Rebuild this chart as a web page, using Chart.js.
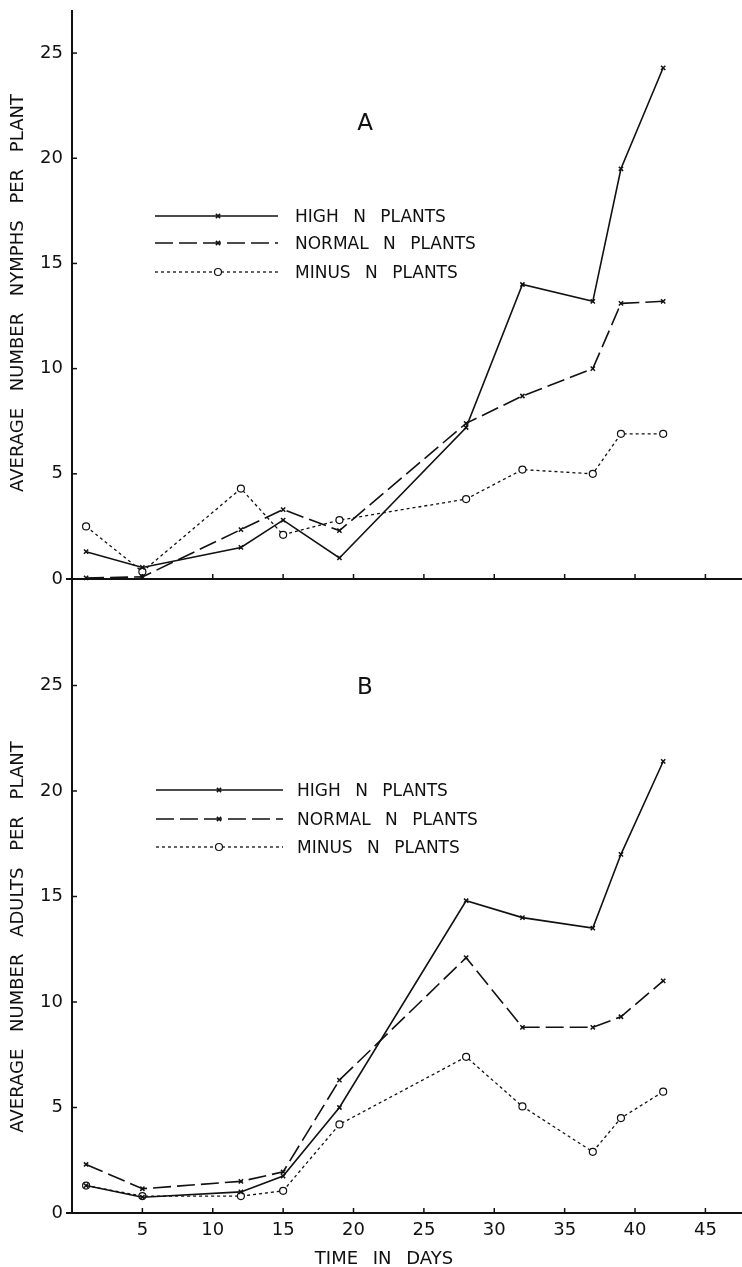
<!DOCTYPE html>
<html>
<head>
<meta charset="utf-8">
<script src="https://cdn.jsdelivr.net/npm/chart.js@4.4.1/dist/chart.umd.min.js"></script>
<style>
  body { margin: 0; background: #fff; }
  #wrap { position: relative; width: 742px; height: 1267px; overflow: hidden;
          font-family: 'DejaVu Sans', sans-serif; color: #111; }
  canvas { position: absolute; left: 0; }
  .lbl { position: absolute; white-space: pre; line-height: 1; }
  .leg { font-size: 17px; transform: translateY(-50%); word-spacing: 9px; }
  .panel { font-size: 23px; transform: translate(-50%, -50%); }
  .ytitle { font-size: 18px; word-spacing: 11px; transform: translate(-50%, -50%) rotate(-90deg); }
  .xtitle { font-size: 18px; word-spacing: 9px; transform: translate(-50%, -50%); }
</style>
</head>
<body>
<div id="wrap">
  <canvas id="chartA" width="742" height="600" style="top:0"></canvas>
  <canvas id="chartB" width="742" height="697" style="top:570px"></canvas>

  <div class="lbl panel" style="left:365px; top:122px">A</div>
  <div class="lbl leg" style="left:295px; top:216px">HIGH N PLANTS</div>
  <div class="lbl leg" style="left:295px; top:243px">NORMAL N PLANTS</div>
  <div class="lbl leg" style="left:295px; top:272px">MINUS N PLANTS</div>
  <div class="lbl ytitle" style="left:17px; top:293px">AVERAGE NUMBER NYMPHS PER PLANT</div>

  <div class="lbl panel" style="left:365px; top:686px">B</div>
  <div class="lbl leg" style="left:297px; top:790px">HIGH N PLANTS</div>
  <div class="lbl leg" style="left:297px; top:819px">NORMAL N PLANTS</div>
  <div class="lbl leg" style="left:297px; top:847px">MINUS N PLANTS</div>
  <div class="lbl ytitle" style="left:17px; top:937px">AVERAGE NUMBER ADULTS PER PLANT</div>

  <div class="lbl xtitle" style="left:384px; top:1258px">TIME IN DAYS</div>
</div>
<script>
// days of sampling
const days = [1, 5, 12, 15, 19, 28, 32, 37, 39, 42];

// A: nymphs per plant
const nymphsHigh   = [1.3, 0.55, 1.5, 2.8, 1.0, 7.2, 14.0, 13.2, 19.5, 24.3];
const nymphsNormal = [0.05, 0.1, 2.35, 3.3, 2.3, 7.4, 8.7, 10.0, 13.1, 13.2];
const nymphsMinus  = [2.5, 0.35, 4.3, 2.1, 2.8, 3.8, 5.2, 5.0, 6.9, 6.9];

// B: adults per plant
const adultsHigh   = [1.3, 0.75, 1.0, 1.75, 5.0, 14.8, 14.0, 13.5, 17.0, 21.4];
const adultsNormal = [2.3, 1.15, 1.5, 1.95, 6.3, 12.1, 8.8, 8.8, 9.3, 11.0];
const adultsMinus  = [1.3, 0.8, 0.8, 1.05, 4.2, 7.4, 5.05, 2.9, 4.5, 5.75];

const xTicks = [5, 10, 15, 20, 25, 30, 35, 40, 45];
const yTicks = [0, 5, 10, 15, 20, 25];

const ink = '#111';
const tickFont = { family: 'DejaVu Sans', size: 18 };

function pts(ys) {
    return days.map((d, i) => ({ x: d, y: ys[i] }));
}

function makeSets(high, normal, minus) {
    return [{
        label: 'HIGH N PLANTS',
        data: pts(high),
        borderColor: ink, borderWidth: 1.6,
        pointStyle: 'crossRot', pointRadius: 3, pointBorderWidth: 1.5,
        pointBorderColor: ink, pointBackgroundColor: ink
    }, {
        label: 'NORMAL N PLANTS',
        data: pts(normal),
        borderColor: ink, borderWidth: 1.6, borderDash: [18, 6],
        pointStyle: 'crossRot', pointRadius: 3, pointBorderWidth: 1.5,
        pointBorderColor: ink, pointBackgroundColor: ink
    }, {
        label: 'MINUS N PLANTS',
        data: pts(minus),
        borderColor: ink, borderWidth: 1.3, borderDash: [3, 3],
        pointStyle: 'circle', pointRadius: 3.5, pointBorderWidth: 1.2,
        pointBorderColor: ink, pointBackgroundColor: '#fff'
    }];
}

// small tick marks pointing into the plot, like the original
const innerTicks = {
    id: 'innerTicks',
    afterDraw(chart) {
        const { ctx, chartArea } = chart;
        const x = chart.scales.x, y = chart.scales.y;
        ctx.save();
        ctx.strokeStyle = ink;
        ctx.lineWidth = 1.5;
        x.ticks.forEach(t => {
            const px = x.getPixelForValue(t.value);
            ctx.beginPath();
            ctx.moveTo(px, chartArea.bottom);
            ctx.lineTo(px, chartArea.bottom - 5);
            ctx.stroke();
        });
        y.ticks.forEach(t => {
            const py = y.getPixelForValue(t.value);
            ctx.beginPath();
            ctx.moveTo(chartArea.left, py);
            ctx.lineTo(chartArea.left + 5, py);
            ctx.stroke();
        });
        // axis line runs a little past the y axis on the left
        ctx.lineWidth = 2;
        ctx.beginPath();
        ctx.moveTo(chartArea.left - 6, chartArea.bottom);
        ctx.lineTo(chartArea.left, chartArea.bottom);
        ctx.stroke();
        ctx.restore();
    }
};

// legend line samples (line with marker in the middle)
const sampleLegend = {
    id: 'sampleLegend',
    afterDraw(chart, args, opts) {
        if (!opts.rows) return;
        const ctx = chart.ctx;
        chart.data.datasets.forEach((ds, i) => {
            const yy = opts.rows[i];
            ctx.save();
            ctx.strokeStyle = ink;
            ctx.lineWidth = ds.borderWidth;
            ctx.setLineDash(ds.borderDash || []);
            ctx.beginPath();
            ctx.moveTo(opts.x0, yy);
            ctx.lineTo(opts.x1, yy);
            ctx.stroke();
            ctx.setLineDash([]);
            ctx.fillStyle = ds.pointBackgroundColor;
            ctx.strokeStyle = ink;
            ctx.lineWidth = ds.pointBorderWidth;
            Chart.helpers.drawPoint(ctx, {
                pointStyle: ds.pointStyle, radius: ds.pointRadius,
                borderWidth: ds.pointBorderWidth, rotation: 0
            }, opts.xm, yy);
            ctx.restore();
        });
    }
};

function makeChart(id, sets, cfg) {
    return new Chart(document.getElementById(id), {
        type: 'line',
        data: { datasets: sets },
        plugins: [innerTicks, sampleLegend],
        options: {
            responsive: false,
            devicePixelRatio: 1,
            animation: false,
            layout: {
                autoPadding: false,
                padding: { top: cfg.top, bottom: cfg.bottom, left: 0, right: 0 }
            },
            elements: { line: { tension: 0 } },
            datasets: { line: { clip: false } },
            scales: {
                x: {
                    type: 'linear', min: 0, max: 47.6,
                    afterBuildTicks: s => { s.ticks = xTicks.map(v => ({ value: v })); },
                    afterFit: s => {
                        s.height = cfg.xHeight;
                        s.paddingLeft = 0;
                        s.paddingRight = 0;
                    },
                    border: { color: ink, width: 2 },
                    grid: { drawOnChartArea: false, drawTicks: false },
                    ticks: { display: cfg.xLabels, color: ink, font: tickFont, padding: 7, maxRotation: 0 }
                },
                y: {
                    min: 0, max: cfg.ymax,
                    afterBuildTicks: s => { s.ticks = yTicks.map(v => ({ value: v })); },
                    afterFit: s => {
                        s.width = 72;
                        s.paddingTop = 0;
                        s.paddingBottom = 0;
                    },
                    border: { color: ink, width: 2 },
                    grid: { drawOnChartArea: false, drawTicks: false },
                    ticks: { color: ink, font: tickFont, padding: 9 }
                }
            },
            plugins: {
                legend: { display: false },
                tooltip: { enabled: false },
                sampleLegend: cfg.legend
            }
        }
    });
}

makeChart('chartA', makeSets(nymphsHigh, nymphsNormal, nymphsMinus), {
    top: 11, bottom: 21, xHeight: 0, xLabels: false, ymax: 27,
    legend: { rows: [216, 243, 272], x0: 155, x1: 278, xm: 218 }
});

makeChart('chartB', makeSets(adultsHigh, adultsNormal, adultsMinus), {
    top: 10, bottom: 0, xHeight: 54, xLabels: true, ymax: 30,
    legend: { rows: [220, 249, 277], x0: 156, x1: 283, xm: 219 }
});
</script>
</body>
</html>
